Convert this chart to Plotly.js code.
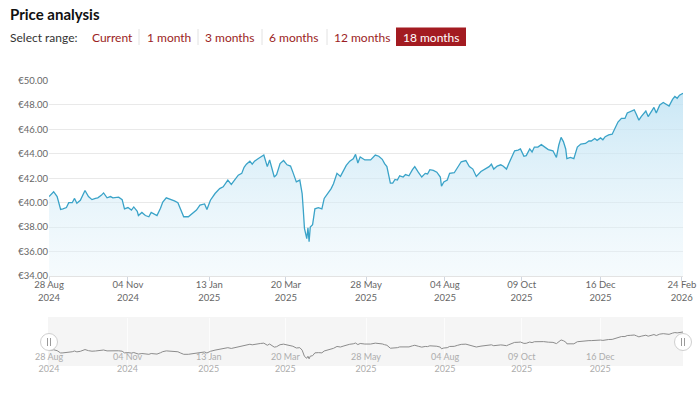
<!DOCTYPE html>
<html><head><meta charset="utf-8">
<script src="https://cdn.plot.ly/plotly-3.0.1.min.js"></script>
<style>html,body{margin:0;padding:0;background:#fff;} #chart{width:700px;height:398px;}</style>
</head><body><div id="chart"></div>
<script>
const dates = [
'2024-08-28','2024-08-29','2024-09-01','2024-09-04','2024-09-07','2024-09-09','2024-09-12','2024-09-14','2024-09-17','2024-09-19','2024-09-21','2024-09-24','2024-09-28',
'2024-10-01','2024-10-04','2024-10-07','2024-10-09','2024-10-12','2024-10-14','2024-10-17','2024-10-20','2024-10-22','2024-10-27','2024-10-30',
'2024-11-01','2024-11-04','2024-11-07','2024-11-09','2024-11-12','2024-11-13','2024-11-16','2024-11-19','2024-11-22','2024-11-24','2024-11-26','2024-11-29',
'2024-12-02','2024-12-04','2024-12-07','2024-12-10','2024-12-14','2024-12-17','2024-12-19','2024-12-22','2024-12-26','2024-12-29',
'2025-01-02','2025-01-05','2025-01-09','2025-01-11','2025-01-14','2025-01-18','2025-01-22','2025-01-25','2025-01-29',
'2025-02-01','2025-02-04','2025-02-07','2025-02-10','2025-02-12','2025-02-14','2025-02-17','2025-02-19','2025-02-21','2025-02-24','2025-02-26',
'2025-03-01','2025-03-04','2025-03-06','2025-03-10','2025-03-12','2025-03-15','2025-03-18','2025-03-21','2025-03-24','2025-03-26','2025-03-29',
'2025-04-01','2025-04-03','2025-04-04','2025-04-05','2025-04-07','2025-04-08','2025-04-09','2025-04-10','2025-04-12','2025-04-14','2025-04-17','2025-04-20','2025-04-22','2025-04-25','2025-04-28','2025-04-30',
'2025-05-03','2025-05-06','2025-05-09','2025-05-11','2025-05-14','2025-05-17','2025-05-19','2025-05-21','2025-05-23','2025-05-27',
'2025-06-01','2025-06-05','2025-06-08','2025-06-11','2025-06-13','2025-06-15','2025-06-18','2025-06-20','2025-06-22','2025-06-24','2025-06-26','2025-06-29',
'2025-07-01','2025-07-04','2025-07-07','2025-07-09','2025-07-12','2025-07-15','2025-07-18','2025-07-20','2025-07-22','2025-07-25','2025-07-28','2025-07-31',
'2025-08-01','2025-08-03','2025-08-06','2025-08-08','2025-08-12','2025-08-15','2025-08-18','2025-08-22','2025-08-25','2025-08-28','2025-08-31',
'2025-09-04','2025-09-08','2025-09-11','2025-09-13','2025-09-15','2025-09-18','2025-09-21','2025-09-23','2025-09-26','2025-09-28',
'2025-10-01','2025-10-03','2025-10-06','2025-10-08','2025-10-11','2025-10-13','2025-10-16','2025-10-18','2025-10-20','2025-10-23','2025-10-26','2025-10-28',
'2025-11-01','2025-11-05','2025-11-08','2025-11-10','2025-11-12','2025-11-14','2025-11-16','2025-11-17','2025-11-20','2025-11-23','2025-11-26','2025-11-29',
'2025-12-03','2025-12-06','2025-12-08','2025-12-11','2025-12-13','2025-12-16','2025-12-18','2025-12-20','2025-12-23','2025-12-26','2025-12-28','2025-12-31',
'2026-01-03','2026-01-06','2026-01-08','2026-01-11','2026-01-14','2026-01-16','2026-01-18','2026-01-20','2026-01-22','2026-01-24','2026-01-26','2026-01-29','2026-01-31',
'2026-02-02','2026-02-05','2026-02-08','2026-02-11','2026-02-13','2026-02-16','2026-02-18','2026-02-20','2026-02-22','2026-02-25'
];
const prices = [
40.5,40.6,40.9,40.5,39.45,39.5,39.6,40.0,40.0,40.35,39.95,40.2,41.0,
40.5,40.25,40.35,40.4,40.6,40.8,40.4,40.5,40.4,40.45,40.25,
39.5,39.6,39.4,39.65,39.3,38.95,39.2,38.95,38.85,39.2,39.1,38.95,
39.55,40.05,40.4,40.3,40.15,40.0,39.5,38.85,38.85,39.1,
39.4,39.8,39.9,39.45,40.2,40.75,41.15,41.3,41.85,
41.5,41.9,42.25,42.4,42.9,43.15,43.4,43.15,43.4,43.6,43.75,
43.9,42.95,43.5,42.1,42.3,43.2,43.45,43.1,43.0,42.5,41.7,
41.85,40.75,39.4,37.9,37.05,37.95,36.8,38.0,38.2,39.5,39.6,39.5,40.35,40.75,41.15,41.55,
42.4,42.15,42.65,43.05,43.4,43.6,43.95,43.25,43.75,43.5,
43.5,43.9,43.8,43.55,43.2,42.95,41.6,41.6,41.9,41.85,42.2,42.1,
42.3,42.2,42.7,42.95,42.5,42.1,42.4,42.35,42.7,42.65,42.5,42.1,
41.35,41.7,41.85,42.4,42.45,42.95,43.35,43.45,42.95,42.75,42.15,
42.55,42.75,42.95,43.15,42.75,43.0,43.1,43.0,42.75,43.2,
43.8,44.25,44.3,44.4,43.8,43.85,44.4,44.15,44.55,44.55,44.75,44.6,
44.35,44.25,43.7,44.7,45.35,45.0,44.4,43.6,43.7,43.6,44.55,44.8,
44.85,45.05,45.05,45.25,45.1,45.3,45.15,45.4,45.55,45.6,45.95,46.6,
46.9,46.9,47.35,47.45,47.6,47.2,46.75,47.05,47.25,47.5,47.05,47.45,47.8,
47.35,48.0,48.2,48.0,47.9,48.45,48.7,48.55,48.8,48.95
];
const tickDates = ['2024-08-28','2024-11-04','2025-01-13','2025-03-20','2025-05-28','2025-08-04','2025-10-09','2025-12-16','2026-02-24'];
const tickLabels = ['28 Aug<br>2024','04 Nov<br>2024','13 Jan<br>2025','20 Mar<br>2025','28 May<br>2025','04 Aug<br>2025','09 Oct<br>2025','16 Dec<br>2025','24 Feb<br>2026'];
const navTickDates = tickDates.slice(0, 8);
const navTickLabels = tickLabels.slice(0, 8);
const rangeLabels = ['Current','1 month','3 months','6 months','12 months','18 months'];

const H = 398, L = 49, R = 683;
const px = x => (x - L) / (R - L);
const py = y => 1 - y / H;
const FONT = 'Lato, "Open Sans", sans-serif';

const main = {
  x: dates, y: prices, type: 'scatter', mode: 'lines', xaxis: 'x', yaxis: 'y',
  line: {color: '#3aa3c8', width: 1.3},
  fill: 'tozeroy',
  fillgradient: {type: 'vertical', start: 34, stop: 50,
    colorscale: [[0, 'rgba(228,243,250,0.35)'], [1, 'rgba(188,225,243,0.85)']]},
  hoverinfo: 'skip'
};
const nav = {
  x: dates, y: prices, type: 'scatter', mode: 'lines', xaxis: 'x2', yaxis: 'y2',
  line: {color: '#8c8c8c', width: 1}, hoverinfo: 'skip'
};

const btnX = [112, 169, 230, 294, 362, 431];
const sepX = [139, 198, 262, 327];

const annotations = [
  {text: '<b>Price analysis</b>', xref: 'paper', yref: 'paper', x: px(8), y: py(14), xanchor: 'left', yanchor: 'middle', showarrow: false, font: {family: FONT, size: 15, color: '#111', weight: 900}},
  {text: 'Select range:', xref: 'paper', yref: 'paper', x: px(8), y: py(37), xanchor: 'left', yanchor: 'middle', showarrow: false, font: {family: FONT, size: 12, color: '#333'}}
];
rangeLabels.forEach((t, i) => annotations.push({
  text: t, xref: 'paper', yref: 'paper', x: px(btnX[i]), y: py(37), xanchor: 'center', yanchor: 'middle', showarrow: false,
  font: {family: FONT, size: 12, color: i === 5 ? '#ffffff' : '#9b1d24'}
}));
navTickDates.forEach((d, i) => annotations.push({
  text: navTickLabels[i], xref: 'x2', yref: 'paper', x: d, y: py(362), xanchor: 'center', yanchor: 'middle', showarrow: false,
  font: {family: FONT, size: 9, color: '#adadad'}
}));

const shapes = [
  {type: 'rect', xref: 'paper', yref: 'paper', x0: px(48), x1: px(683), y0: py(317), y1: py(366), fillcolor: '#f5f5f5', line: {width: 0}, layer: 'below'},
  {type: 'rect', xref: 'paper', yref: 'paper', x0: px(396), x1: px(466), y0: py(27.5), y1: py(46), fillcolor: '#a31b21', line: {width: 0}, layer: 'below'}
];
sepX.forEach(x => shapes.push({type: 'line', xref: 'paper', yref: 'paper', x0: px(x), x1: px(x), y0: py(29), y1: py(45), line: {color: '#e2e2e2', width: 1}}));
[49, 683].forEach(cx => {
  shapes.push({type: 'circle', xref: 'paper', yref: 'paper', x0: px(cx - 8.5), x1: px(cx + 8.5), y0: py(342 - 8.5), y1: py(342 + 8.5), fillcolor: '#ffffff', line: {color: '#d0d0d0', width: 1}});
  [-1.5, 1.5].forEach(dx => shapes.push({type: 'line', xref: 'paper', yref: 'paper', x0: px(cx + dx), x1: px(cx + dx), y0: py(338), y1: py(346), line: {color: '#9a9a9a', width: 1}}));
});

const layout = {
  width: 700, height: 398,
  margin: {l: L, r: 700 - R, t: 0, b: 0},
  paper_bgcolor: '#ffffff', plot_bgcolor: 'rgba(0,0,0,0)',
  showlegend: false,
  font: {family: FONT, color: '#666'},
  xaxis: {
    domain: [0, 1], anchor: 'y', type: 'date', range: ['2024-08-28', '2026-02-25'],
    tickmode: 'array', tickvals: tickDates, ticktext: tickLabels,
    ticks: 'outside', ticklen: 4, tickcolor: '#cfd6e0', tickwidth: 1, ticklabelstandoff: -4,
    showline: true, linecolor: '#e3e3e3', linewidth: 1, showgrid: false, zeroline: false,
    tickfont: {family: FONT, size: 9.5, color: '#666'}, fixedrange: true
  },
  yaxis: {
    domain: [py(276), py(80.5)], anchor: 'x', range: [34, 50], tick0: 34, dtick: 2,
    tickprefix: '€', tickformat: '.2f', gridcolor: '#e9e9e9', gridwidth: 1, zeroline: false,
    showline: false, ticks: '', ticklabelstandoff: 0,
    tickfont: {family: FONT, size: 9.5, color: '#666'}, fixedrange: true
  },
  xaxis2: {
    domain: [0, 1], anchor: 'y2', type: 'date', range: ['2024-08-28', '2026-02-25'],
    tickmode: 'array', tickvals: navTickDates, showticklabels: false, ticks: '',
    showgrid: true, gridcolor: '#fcfcfc', zeroline: false, showline: false, fixedrange: true
  },
  yaxis2: {
    domain: [py(365), py(318)], anchor: 'x2', range: [34, 55.3], visible: false, showgrid: false, fixedrange: true
  },
  annotations: annotations,
  shapes: shapes
};

Plotly.newPlot('chart', [main, nav], layout, {staticPlot: true, displayModeBar: false});
</script>
</body></html>
